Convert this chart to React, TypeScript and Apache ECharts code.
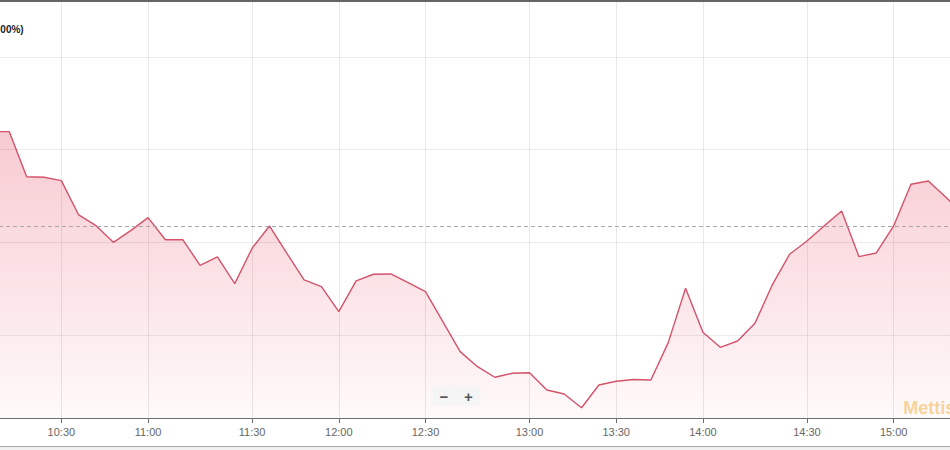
import React, { useEffect, useRef } from "react";
import * as echarts from "echarts";

const TIMES = [
  "10:06", "10:12", "10:18", "10:24", "10:30", "10:36", "10:42", "10:48", "10:54", "11:00",
  "11:05", "11:10", "11:15", "11:20", "11:25", "11:30", "11:36", "11:42", "11:48", "11:54",
  "12:00", "12:06", "12:12", "12:18", "12:24", "12:30", "12:35", "12:40", "12:45", "12:50",
  "12:55", "13:00", "13:06", "13:12", "13:18", "13:24", "13:30", "13:36", "13:42", "13:48",
  "13:54", "14:00", "14:05", "14:10", "14:15", "14:20", "14:25", "14:30", "14:36", "14:42",
  "14:48", "14:54", "15:00", "15:06", "15:12", "15:18", "15:24",
];

const VALUES = [
  45319.4, 45319.4, 45270.8, 45270.2, 45266.5, 45229.5, 45217.9, 45200.0, 45212.6, 45226.6,
  45202.8, 45202.8, 45175.2, 45184.2, 45155.4, 45193.6, 45217.6, 45188.2, 45159.4, 45152.1,
  45125.1, 45158.3, 45165.5, 45165.8, 45156.4, 45146.7, 45114.4, 45082.0, 45065.8, 45054.4,
  45058.7, 45059.3, 45040.6, 45036.3, 45021.5, 45046.0, 45050.0, 45052.0, 45051.4, 45091.7,
  45150.4, 45102.9, 45086.7, 45093.5, 45112.6, 45154.0, 45187.1, 45201.4, 45217.9, 45233.8,
  45184.5, 45188.5, 45217.6, 45262.6, 45266.2, 45248.9, 45230.6,
];

const TICK_LABELS = ["10:30", "11:00", "11:30", "12:00", "12:30", "13:00", "13:30", "14:00", "14:30", "15:00"];
const GRID_VALUES = [45100, 45200, 45300, 45400];
const PREV_CLOSE = 45217.3;
const Y_MIN = 45010.4;
const Y_MAX = 45459.3;

// the plot runs a little past both edges of the visible frame
const SHIFT = 8.33;
const CHART_W = 970.67;

export default function App() {
  const ref = useRef<HTMLDivElement>(null);

  useEffect(() => {
    if (!ref.current) return;
    const chart = echarts.init(ref.current, undefined, { renderer: "svg" });
    const showTick = (_i: number, v: string) => TICK_LABELS.includes(v);
    const X = (x: number) => x + SHIFT;

    chart.setOption({
      animation: false,
      backgroundColor: "#ffffff",
      grid: { left: 0, right: 0, top: 2, bottom: 32 },
      xAxis: {
        type: "category",
        data: TIMES,
        boundaryGap: false,
        axisLine: { show: true, lineStyle: { color: "#6e6e6e", width: 1 } },
        axisTick: { show: true, interval: showTick, length: 5, lineStyle: { color: "#6e6e6e" } },
        axisLabel: {
          interval: showTick,
          color: "#666666",
          fontSize: 11,
          fontFamily: "Liberation Sans, Arial, sans-serif",
          margin: 8,
        },
        splitLine: { show: true, interval: showTick, lineStyle: { color: "#e8e8e8", width: 1 } },
      },
      yAxis: {
        type: "value",
        min: Y_MIN,
        max: Y_MAX,
        axisLine: { show: false },
        axisTick: { show: false },
        axisLabel: { show: false },
        splitLine: { show: false },
      },
      series: [
        {
          type: "line",
          data: VALUES,
          symbol: "none",
          lineStyle: { color: "#d4526a", width: 1.4 },
          areaStyle: {
            color: new echarts.graphic.LinearGradient(0, 0, 0, 1, [
              { offset: 0, color: "rgba(232,95,115,0.47)" },
              { offset: 1, color: "rgba(232,95,115,0.05)" },
            ]),
          },
          markLine: {
            silent: true,
            symbol: "none",
            label: { show: false },
            data: [
              ...GRID_VALUES.map((v) => ({
                yAxis: v,
                lineStyle: { color: "rgba(0,0,0,0.075)", width: 1, type: "solid" },
              })),
              {
                yAxis: PREV_CLOSE,
                lineStyle: { color: "#a8a8a8", width: 1, type: [4, 3] },
              },
            ],
          },
        },
      ],
      graphic: [
        { type: "rect", shape: { x: 0, y: 0, width: CHART_W, height: 2 }, style: { fill: "#666666" }, z: 50 },
        { type: "rect", shape: { x: 0, y: 446, width: CHART_W, height: 4 }, style: { fill: "#f0f0f0" }, z: 50 },
        { type: "line", shape: { x1: 0, y1: 446.5, x2: CHART_W, y2: 446.5 }, style: { stroke: "#a9a9a9", lineWidth: 1 }, z: 51 },
        {
          type: "text",
          x: X(0),
          y: 29,
          style: {
            text: "00%)",
            fill: "#222222",
            font: "bold 10px 'Liberation Sans', Arial, sans-serif",
            verticalAlign: "middle",
          },
          z: 60,
        },
        {
          type: "rect",
          shape: { x: X(432), y: 386, width: 23, height: 20, r: 2 },
          style: { fill: "rgba(245,245,245,0.9)" },
          z: 60,
        },
        {
          type: "rect",
          shape: { x: X(456), y: 386, width: 24, height: 20, r: 2 },
          style: { fill: "rgba(245,245,245,0.9)" },
          z: 60,
        },
        {
          type: "text",
          x: X(443.5),
          y: 396,
          style: {
            text: "\u2212",
            fill: "#555555",
            font: "bold 15px 'Liberation Sans', Arial, sans-serif",
            align: "center",
            verticalAlign: "middle",
          },
          z: 61,
        },
        {
          type: "text",
          x: X(468),
          y: 396,
          style: {
            text: "+",
            fill: "#555555",
            font: "bold 15px 'Liberation Sans', Arial, sans-serif",
            align: "center",
            verticalAlign: "middle",
          },
          z: 61,
        },
        {
          type: "text",
          x: X(903),
          y: 408,
          style: {
            text: "Mettis",
            fill: "rgba(240,180,70,0.55)",
            font: "bold 18px 'Liberation Sans', Arial, sans-serif",
            align: "left",
            verticalAlign: "middle",
          },
          z: 70,
        },
      ],
    });

    return () => chart.dispose();
  }, []);

  return (
    <div style={{ position: "fixed", left: 0, top: 0, width: 950, height: 450, overflow: "hidden", background: "#fff" }}>
      <div
        ref={ref}
        style={{ position: "absolute", left: -SHIFT, top: 0, width: CHART_W, height: 450 }}
      />
    </div>
  );
}
